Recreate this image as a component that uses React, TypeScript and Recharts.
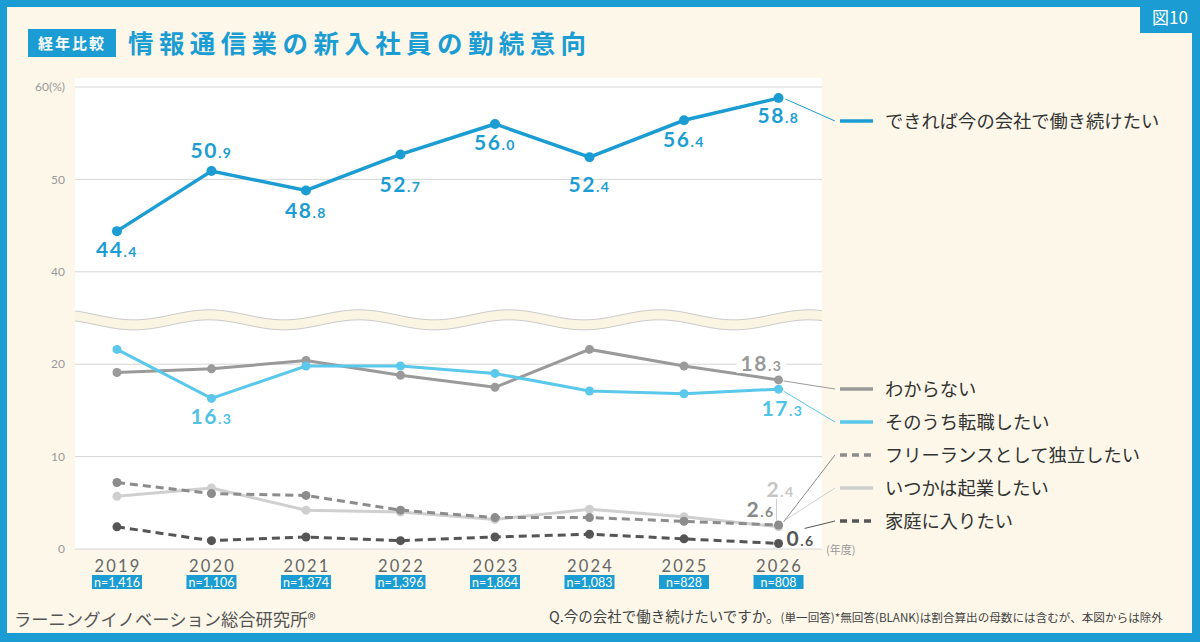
import React from "react"
import {
  LineChart,
  Line,
  XAxis,
  YAxis,
  CartesianGrid,
  LabelList,
  ReferenceArea,
} from "recharts"

// survey years and sample sizes
const years = [2019, 2020, 2021, 2022, 2023, 2024, 2025, 2026]
const sampleSizes = ["n=1,416", "n=1,106", "n=1,374", "n=1,396", "n=1,864", "n=1,083", "n=828", "n=808"]

// answers (%)
const stayValues = [44.4, 50.9, 48.8, 52.7, 56.0, 52.4, 56.4, 58.8]
const unsureValues = [19.1, 19.5, 20.4, 18.8, 17.5, 21.6, 19.8, 18.3]
const changeJobValues = [21.6, 16.3, 19.8, 19.8, 19.0, 17.1, 16.8, 17.3]
const freelanceValues = [7.2, 6.0, 5.8, 4.2, 3.4, 3.4, 3.0, 2.6]
const startupValues = [5.7, 6.6, 4.2, 4.0, 3.2, 4.3, 3.5, 2.4]
const homeValues = [2.4, 0.9, 1.3, 0.9, 1.3, 1.6, 1.1, 0.6]

// the axis skips 20-40, so everything above the break sits 10 lower
const BREAK_SHIFT = 10
const yTicks = [0, 10, 20, 30, 40, 50]
const yTickLabels = ["0", "10", "20", "40", "50", "60(%)"]

const data = years.map((year, i) => ({
  year,
  stay: stayValues[i] - BREAK_SHIFT,
  unsure: unsureValues[i],
  changeJob: changeJobValues[i],
  freelance: freelanceValues[i],
  startup: startupValues[i],
  home: homeValues[i],
}))

const BLUE = "#1b9dd3"
const JP = '"Noto Sans CJK JP", "Noto Sans", sans-serif'
const NUM = 'Lato, "Noto Sans", sans-serif'

function ValueText({ x, y, value, color, anchor = "middle" }: any) {
  const [whole, dec] = value.toFixed(1).split(".")
  return (
    <text x={x} y={y} textAnchor={anchor} fill={color} fontFamily={NUM} fontWeight={700} letterSpacing={1.5}>
      <tspan fontSize={21}>{whole}</tspan>
      <tspan fontSize={14}>.{dec}</tspan>
    </text>
  )
}

// baseline offsets for the top series' value labels
const stayLabelDy = [26, -13, 28, 38, 26, 35, 27, 25]

type LegendCfg = {
  label: string
  color: string
  dashed?: boolean
  legendY: number
  from: [number, number]
}

function LegendEntry({ x, y, cfg }: { x: number; y: number; cfg: LegendCfg }) {
  return (
    <g>
      <line x1={x + cfg.from[0]} y1={y + cfg.from[1]} x2={835} y2={cfg.legendY} stroke={cfg.color} strokeWidth={1} />
      <line
        x1={840}
        x2={873}
        y1={cfg.legendY}
        y2={cfg.legendY}
        stroke={cfg.color}
        strokeWidth={3.5}
        strokeDasharray={cfg.dashed ? "7 5" : undefined}
      />
      <text x={885} y={cfg.legendY + 6.5} fontSize={18.3} fill="#333" fontFamily={JP}>
        {cfg.label}
      </text>
    </g>
  )
}

const legends: Record<string, LegendCfg> = {
  stay: { label: "できれば今の会社で働き続けたい", color: BLUE, legendY: 121, from: [7, 1] },
  unsure: { label: "わからない", color: "#9a9a9a", legendY: 389, from: [5, 1] },
  changeJob: { label: "そのうち転職したい", color: "#5ac8ea", legendY: 422, from: [5, 2] },
  freelance: { label: "フリーランスとして独立したい", color: "#8c8c8c", dashed: true, legendY: 455, from: [5, -3] },
  startup: { label: "いつかは起業したい", color: "#cfcfcf", legendY: 488, from: [7, -7] },
  home: { label: "家庭に入りたい", color: "#555555", dashed: true, legendY: 521, from: [26, -15] },
}

const last = years.length - 1

function WaveBand(props: any) {
  const { x, y, width, height } = props
  const mid = y + height / 2
  const wave = (px: number) => -5 * Math.cos((2 * Math.PI * (px - 209)) / 150)
  const xs: number[] = []
  for (let px = x; px <= x + width; px += 2) xs.push(px)
  xs.push(x + width)
  const upper = xs.map((px) => `${px},${mid - 5 + wave(px)}`)
  const lower = xs.map((px) => `${px},${mid + 5 + wave(px)}`)
  return (
    <g>
      <polygon points={[...upper, ...lower.slice().reverse()].join(" ")} fill="#faf4e2" />
      <polyline points={upper.join(" ")} fill="none" stroke="#cbcbcb" strokeWidth={1} />
      <polyline points={lower.join(" ")} fill="none" stroke="#cbcbcb" strokeWidth={1} />
    </g>
  )
}

function YearTick(props: any) {
  const { x, y, payload } = props
  const i = years.indexOf(payload.value)
  return (
    <g>
      <text x={x + 1} y={y + 15} textAnchor="middle" fontSize={16.5} fill="#666" letterSpacing={2.2} fontFamily={NUM} fontWeight={400}>
        {payload.value}
      </text>
      <rect x={x - 25} y={y + 18} width={50} height={14} fill={BLUE} />
      <text x={x} y={y + 29.5} textAnchor="middle" fontSize={12.5} fill="#fff" fontFamily={NUM}>
        {sampleSizes[i]}
      </text>
    </g>
  )
}

export default function App() {
  return (
    <div style={{ position: "absolute", left: 0, top: 0, width: 1200, height: 642, background: BLUE, overflow: "hidden", fontFamily: JP }}>
      <div style={{ position: "absolute", left: 7, top: 7, width: 1185, height: 626, background: "#fcf7e9" }} />
      <div style={{ position: "absolute", left: 1140, top: 0, width: 60, height: 33, background: BLUE, color: "#fff", fontSize: 17, lineHeight: "33px", textAlign: "center" }}>
        図10
      </div>
      <div style={{ position: "absolute", left: 75, top: 78, width: 747, height: 471, background: "#fff" }} />

      <div style={{ position: "absolute", left: 28, top: 29, width: 88, height: 28, background: BLUE, color: "#fff", fontSize: 15, fontWeight: 700, lineHeight: "28px", textAlign: "center", letterSpacing: 2 }}>
        経年比較
      </div>
      <div style={{ position: "absolute", left: 128, top: 26, fontSize: 25.5, fontWeight: 700, lineHeight: "32px", letterSpacing: 5.4, color: BLUE, whiteSpace: "nowrap" }}>
        情報通信業の新入社員の勤続意向
      </div>

      <div style={{ position: "absolute", left: 0, top: 0 }}>
        <LineChart width={1200} height={642} data={data} margin={{ top: 87, right: 378, bottom: 48, left: 15 }}>
          <CartesianGrid horizontal vertical={false} stroke="#d6d6d6" />
          <ReferenceArea y1={23.2} y2={26.4} ifOverflow="visible" shape={(p: any) => <WaveBand {...p} />} />
          <XAxis
            dataKey="year"
            type="number"
            domain={[2018.556, 2026.46]}
            ticks={years}
            axisLine={false}
            tickLine={false}
            height={45}
            tick={<YearTick />}
          />
          <YAxis
            domain={[0, 50]}
            ticks={yTicks}
            width={60}
            axisLine={false}
            tickLine={false}
            tickSize={8}
            tick={{ fill: "#9a9a9a", fontSize: 12, fontFamily: NUM }}
            tickFormatter={(v: number) => yTickLabels[yTicks.indexOf(v)]}
          />

          <Line dataKey="startup" stroke="#cfcfcf" strokeWidth={3} dot={{ r: 4.5, fill: "#cfcfcf", stroke: "none" }} isAnimationActive={false}>
            <LabelList
              content={(p: any) =>
                p.index === last ? (
                  <g>
                    <LegendEntry x={p.x} y={p.y} cfg={legends.startup} />
                    <line x1={p.x - 2} x2={p.x - 2} y1={p.y - 6} y2={p.y - 28} stroke="#cfcfcf" strokeWidth={1} />
                    <ValueText x={p.x + 2} y={p.y - 30} value={startupValues[p.index]} color="#c6c6c6" />
                  </g>
                ) : null
              }
            />
          </Line>
          <Line dataKey="freelance" stroke="#8c8c8c" strokeWidth={3} strokeDasharray="8 5" dot={{ r: 4.5, fill: "#8c8c8c", stroke: "none" }} isAnimationActive={false}>
            <LabelList
              content={(p: any) =>
                p.index === last ? (
                  <g>
                    <LegendEntry x={p.x} y={p.y} cfg={legends.freelance} />
                    <ValueText x={p.x - 18} y={p.y - 8} value={freelanceValues[p.index]} color="#888" />
                  </g>
                ) : null
              }
            />
          </Line>
          <Line dataKey="home" stroke="#555" strokeWidth={3} strokeDasharray="8 5" dot={{ r: 4.5, fill: "#555", stroke: "none" }} isAnimationActive={false}>
            <LabelList
              content={(p: any) =>
                p.index === last ? (
                  <g>
                    <LegendEntry x={p.x} y={p.y} cfg={legends.home} />
                    <ValueText x={p.x + 8} y={p.y + 3} value={homeValues[p.index]} color="#555" anchor="start" />
                  </g>
                ) : null
              }
            />
          </Line>
          <Line dataKey="unsure" stroke="#9a9a9a" strokeWidth={3} dot={{ r: 4.5, fill: "#9a9a9a", stroke: "none" }} isAnimationActive={false}>
            <LabelList
              content={(p: any) =>
                p.index === last ? (
                  <g>
                    <LegendEntry x={p.x} y={p.y} cfg={legends.unsure} />
                    <rect x={p.x - 42} y={p.y - 26} width={50} height={19} fill="#fff" />
                    <ValueText x={p.x - 17} y={p.y - 9} value={unsureValues[p.index]} color="#999" />
                  </g>
                ) : null
              }
            />
          </Line>
          <Line dataKey="changeJob" stroke="#5ac8ea" strokeWidth={3} dot={{ r: 4.5, fill: "#5ac8ea", stroke: "none" }} isAnimationActive={false}>
            <LabelList
              content={(p: any) => {
                if (p.index === 1) return <ValueText x={p.x} y={p.y + 26} value={changeJobValues[p.index]} color="#4fc2e6" />
                if (p.index === last)
                  return (
                    <g>
                      <LegendEntry x={p.x} y={p.y} cfg={legends.changeJob} />
                      <ValueText x={p.x + 4} y={p.y + 27} value={changeJobValues[p.index]} color="#4fc2e6" />
                    </g>
                  )
                return null
              }}
            />
          </Line>
          <Line dataKey="stay" stroke={BLUE} strokeWidth={3.5} dot={{ r: 5, fill: BLUE, stroke: "none" }} isAnimationActive={false}>
            <LabelList
              content={(p: any) => (
                <g>
                  {p.index === last && <LegendEntry x={p.x} y={p.y} cfg={legends.stay} />}
                  <ValueText x={p.x} y={p.y + stayLabelDy[p.index]} value={stayValues[p.index]} color={BLUE} />
                </g>
              )}
            />
          </Line>
        </LineChart>
      </div>

      <div style={{ position: "absolute", left: 826, top: 541, fontSize: 11, color: "#999", lineHeight: "16px" }}>(年度)</div>

      <div style={{ position: "absolute", left: 14, top: 607, fontSize: 17.3, color: "#555", lineHeight: "24px", whiteSpace: "nowrap" }}>
        ラーニングイノベーション総合研究所®
      </div>
      <div style={{ position: "absolute", left: 549, top: 604, color: "#444", lineHeight: "22px", whiteSpace: "nowrap" }}>
        <span style={{ fontSize: 14.5 }}>Q.今の会社で働き続けたいですか。</span>
        <span style={{ fontSize: 11.6 }}>(単一回答)*無回答(BLANK)は割合算出の母数には含むが、本図からは除外</span>
      </div>
    </div>
  )
}
